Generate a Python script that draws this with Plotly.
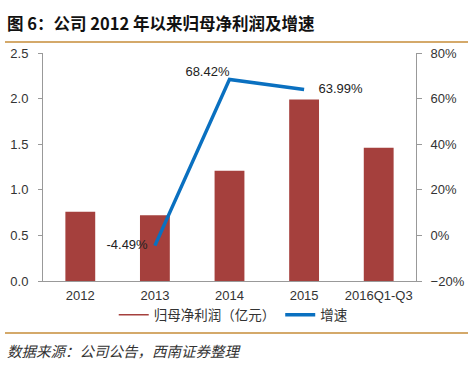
import plotly.graph_objects as go

categories = ["2012", "2013", "2014", "2015", "2016Q1-Q3"]
profit = [0.76, 0.72, 1.21, 1.99, 1.46]
growth_x = ["2013", "2014", "2015"]
growth = [-4.49, 68.42, 63.99]
growth_labels = ["-4.49%  ", "68.42%", "    63.99%"]

L, R, T, B = 43, 416, 53, 281
W, H = 474, 367
def px(x): return (x - L) / (R - L)
def py(y): return (B - y) / (B - T)

fig = go.Figure()
fig.add_trace(go.Bar(x=categories, y=profit, name="归母净利润（亿元）", showlegend=False,
                     marker=dict(color="#A5403D", line=dict(width=0)), width=0.4))
fig.add_trace(go.Scatter(x=[None], y=[None], mode="lines", name="归母净利润（亿元）",
                         line=dict(color="#A5403D", width=1.5)))
fig.add_trace(go.Scatter(x=growth_x, y=growth, yaxis="y2", name="增速",
                         mode="lines+text", text=growth_labels,
                         textposition=["middle left", "top left", "middle right"],
                         textfont=dict(size=13, color="#222", family="Liberation Sans, Arial"),
                         line=dict(color="#0A70C0", width=3.5)))

fig.update_layout(
    width=W, height=H,
    margin=dict(l=L, r=W - R, t=T, b=H - B, autoexpand=False),
    paper_bgcolor="white", plot_bgcolor="white",
    font=dict(family="Liberation Sans, Arial, Noto Sans CJK SC", size=13, color="#333"),
    showlegend=True,
    legend=dict(orientation="h", x=0.51, xanchor="center", y=py(315), yanchor="middle",
                font=dict(family="Noto Sans CJK SC", size=13.5, color="#333"),
                itemwidth=30, tracegroupgap=0),
    bargap=0.6,
    xaxis=dict(type="category", showline=True, linecolor="#999", linewidth=1,
               ticks="", tickfont=dict(size=13, color="#333"), ticklabelstandoff=2),
    yaxis=dict(range=[0, 2.5], dtick=0.5, tickformat=".1f", showgrid=False,
               showline=True, linecolor="#999", linewidth=1, ticks="outside",
               ticklen=4, tickcolor="#999", zeroline=False, ticklabelstandoff=7),
    yaxis2=dict(range=[-20, 80], dtick=20, ticksuffix="%", overlaying="y", side="right",
                showgrid=False, showline=True, linecolor="#999", linewidth=1,
                ticks="outside", ticklen=5, tickcolor="#999", zeroline=False,
                ticklabelstandoff=6),
    shapes=[
        dict(type="line", xref="paper", yref="paper", x0=px(5), x1=px(468), y0=py(42), y1=py(42),
             line=dict(color="#D4A96A", width=2)),
        dict(type="line", xref="paper", yref="paper", x0=px(5), x1=px(468), y0=py(333), y1=py(333),
             line=dict(color="#D4A96A", width=2)),
    ],
    annotations=[
        dict(text="<b>图 6：公司 2012 年以来归母净利润及增速</b>", xref="paper", yref="paper",
             x=px(5), y=py(23), xanchor="left", yanchor="middle", showarrow=False,
             font=dict(family="Noto Sans CJK SC", size=16.5, color="#111")),
        dict(text="<i>数据来源：公司公告，西南证券整理</i>", xref="paper", yref="paper",
             x=px(5), y=py(350), xanchor="left", yanchor="middle", showarrow=False,
             font=dict(family="Noto Sans CJK SC", size=14.5, color="#333")),
    ],
)

fig.write_html("out.html", config={"displayModeBar": False},
               post_script="document.body.style.margin='0';document.body.style.overflow='hidden';")
